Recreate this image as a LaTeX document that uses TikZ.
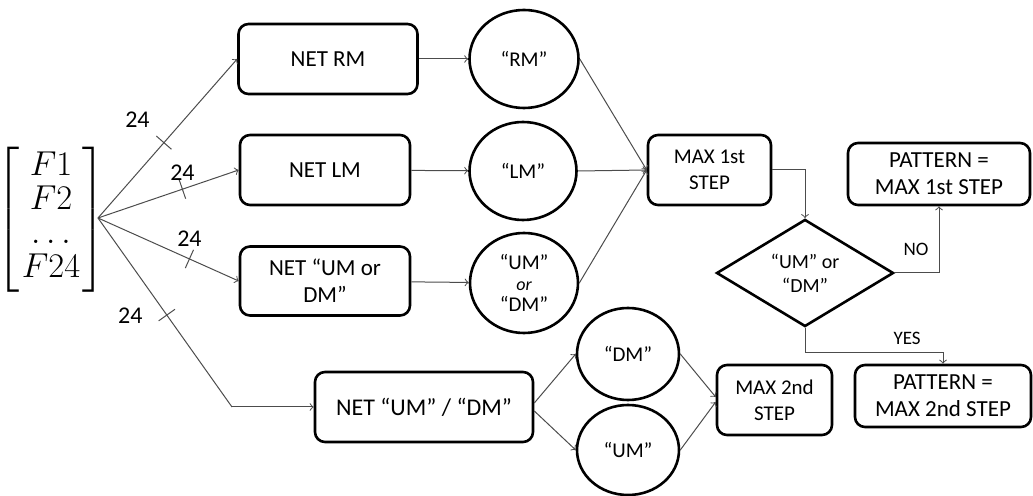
\documentclass[tikz,border=0pt]{standalone}
\usepackage{fontspec}
\setmainfont{Carlito}
\usepackage{amsmath}
\usetikzlibrary{shapes.geometric, decorations.markings}

\begin{document}
\begin{tikzpicture}[x=0.5pt, y=-0.5pt,
				   netbox/.style={draw, rounded corners=5pt, line width=1.3pt, align=center, inner sep=1pt, font=\fontsize{11.5}{13.5}\selectfont},
				   outc/.style={ellipse, draw, line width=1.3pt, align=center, inner sep=0pt, font=\fontsize{10.5}{10.5}\selectfont},
				   conn/.style={->, draw=black!70, line width=0.5pt},
				   lbl/.style={inner sep=1pt, font=\fontsize{12}{14}\selectfont},
				   tickat/.style={postaction={decorate, decoration={markings, mark=at position #1 with {\draw[-, black!70, line width=0.5pt] (0,-5pt) -- (0,5pt);}}}}]
\useasboundingbox (0,0) rectangle (1033,496);
\node[inner sep=0pt] (feat) at (51,220) {\fontsize{16.5}{17}\selectfont\setlength{\arraycolsep}{1pt}$\left[\begin{array}{c} F1\\ F2\\ \dots\\ F24 \end{array}\right]$};
\coordinate (src) at (98,218);
\coordinate (bend) at (232,407);
\node[netbox, minimum width=89.5pt, minimum height=35pt] (netrm) at (328,59) {NET RM};
\node[netbox, minimum width=85pt, minimum height=35pt] (netlm) at (325,170) {NET LM};
\node[netbox, minimum width=85pt, minimum height=34.5pt] (netud) at (325,281) {NET “UM or\\DM”};
\node[netbox, minimum width=109pt, minimum height=35pt, font=\fontsize{12}{14}\selectfont] (netudd) at (424,407) {NET “UM” / “DM”};
\node[outc, minimum width=54.5pt, minimum height=49pt] (rmc) at (524,59) {“RM”};
\node[outc, minimum width=53.5pt, minimum height=49pt] (lmc) at (523,171) {“LM”};
\node[outc, minimum width=54pt, minimum height=50pt] (udc) at (524,283) {“UM”\\{\fontsize{9}{9}\selectfont\itshape or}\\“DM”};
\node[outc, minimum width=51pt, minimum height=46pt] (dmc) at (628,354) {“DM”};
\node[outc, minimum width=51pt, minimum height=45pt] (umc) at (628,450) {“UM”};
\node[netbox, minimum width=61.5pt, minimum height=35pt, font=\fontsize{10.5}{13}\selectfont] (max1) at (709.5,170) {MAX 1st\\STEP};
\node[netbox, minimum width=57.5pt, minimum height=35pt, font=\fontsize{10.5}{13}\selectfont] (max2) at (774.5,400) {MAX 2nd\\STEP};
\node[diamond, draw, line width=1.3pt, align=center, inner sep=0pt, minimum width=88.5pt, minimum height=41pt, font=\fontsize{10}{12}\selectfont] (dec) at (805,273) {“UM” or\\“DM”};
\node[netbox, minimum width=91pt, minimum height=31pt] (pat1) at (939,174) {PATTERN =\\MAX 1st STEP};
\node[netbox, minimum width=88pt, minimum height=31pt] (pat2) at (943,396) {PATTERN =\\MAX 2nd STEP};

\draw[conn, tickat=.475] (src) -- node[pos=.475, above left=6pt, lbl]{24} (netrm.west);
\draw[conn, tickat=.6] (src) -- node[pos=.6, above=3pt, lbl]{24} (netlm.west);
\draw[conn, tickat=.65] (src) -- node[pos=.65, above=5pt, lbl]{24} (netud.west);
\draw[draw=black!70, line width=0.5pt, tickat=.515] (src) -- node[pos=.515, left=11pt, lbl]{24} (bend);
\draw[conn] (bend) -- (netudd.west);
\draw[conn] (netrm) -- (rmc);
\draw[conn] (netlm) -- (lmc);
\draw[conn] (netud) -- (udc);
\draw[conn] (rmc.east) -- (max1.west);
\draw[conn] (lmc.east) -- (max1.west);
\draw[conn] (udc.east) -- (max1.west);
\draw[conn] ([yshift=2pt]netudd.east) -- (dmc.west);
\draw[conn] ([yshift=-2pt]netudd.east) -- (umc.west);
\draw[conn] (dmc.east) -- ([yshift=1.5pt]max2.west);
\draw[conn] (umc.east) -- ([yshift=-1pt]max2.west);
\draw[conn] (max1.east) -| (dec.north);
\draw[conn] (dec.east) -| node[pos=.68, left=4pt, lbl, font=\fontsize{9.5}{11}\selectfont]{NO} (pat1.south);
\draw[conn] (dec.south) -- ++(0,25) -| node[pos=.37, above=3pt, lbl, font=\fontsize{9.5}{11}\selectfont]{YES} (pat2.north);
\end{tikzpicture}
\end{document}
